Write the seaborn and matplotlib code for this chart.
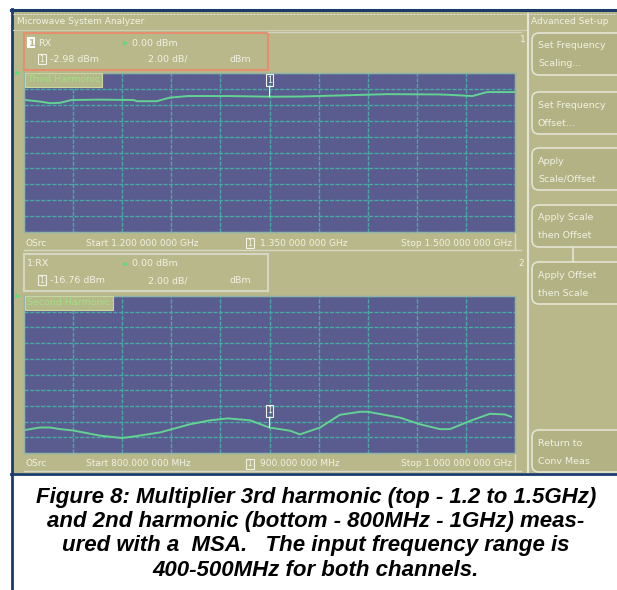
import numpy as np
import pandas as pd
import matplotlib
matplotlib.use("Agg")
import matplotlib.pyplot as plt
import seaborn as sns
from matplotlib.patches import Rectangle, FancyBboxPatch

# Trazas (frecuencia, nivel en dBm)
top_freq_ghz = [1.200, 1.210, 1.216, 1.222, 1.229, 1.246, 1.267, 1.269, 1.281, 1.289,
                1.300, 1.326, 1.350, 1.369, 1.422, 1.454, 1.460, 1.474, 1.483, 1.500]
top_level_dbm = [-3.38, -3.60, -3.80, -3.75, -3.40, -3.35, -3.40, -3.55, -3.55, -3.10,
                 -2.90, -2.90, -2.98, -2.96, -2.66, -2.70, -2.75, -2.90, -2.40, -2.40]

bot_freq_mhz = [800.0, 806.5, 810.6, 814.7, 820.0, 831.0, 839.9, 844.4, 855.4, 867.6,
                875.8, 883.1, 892.1, 900.0, 908.4, 912.4, 920.6, 928.7, 936.9, 940.1,
                953.2, 961.3, 969.5, 973.5, 981.7, 989.8, 995.9, 998.4]
bot_level_dbm = [-17.09, -16.75, -16.75, -16.96, -17.13, -17.79, -18.09, -17.91, -17.38, -16.34,
                 -15.84, -15.59, -15.84, -16.76, -17.16, -17.63, -16.75, -15.13, -14.75, -14.75,
                 -15.50, -16.34, -16.96, -16.96, -15.91, -15.00, -15.09, -15.38]

top_marker = (1.350, -2.98)
bot_marker = (900.0, -16.76)
ref_level = 0.0
db_per_div = 2.0

top_footer = ["OSrc", "Start 1.200 000 000 GHz", "1.350 000 000 GHz", "Stop 1.500 000 000 GHz"]
bot_footer = ["OSrc", "Start 800.000 000 MHz", "900.000 000 MHz", "Stop 1.000 000 000 GHz"]
buttons = [("Set Frequency", "Scaling..."), ("Set Frequency", "Offset..."),
           ("Apply", "Scale/Offset"), ("Apply Scale", "then Offset"),
           ("Apply Offset", "then Scale"), ("Return to", "Conv Meas")]
button_tops = [33, 92, 148, 205, 262, 430]

caption = ["Figure 8: Multiplier 3rd harmonic (top - 1.2 to 1.5GHz)",
           "and 2nd harmonic (bottom - 800MHz - 1GHz) meas-",
           "ured with a  MSA.   The input frequency range is",
           "400-500MHz for both channels."]

OLIVE = "#B9B88B"
SCREEN = "#5A5B8F"
GRID = "#4AA9A3"
TRACE = "#62D393"
UI = "#F1F1E4"
NAVY = "#1B3B6B"
W, H = 617, 590

fig = plt.figure(figsize=(W / 100, H / 100), dpi=100)
fig.patch.set_facecolor("white")

# fondo en coordenadas de pixel
bg = fig.add_axes([0, 0, 1, 1])
bg.set_xlim(0, W)
bg.set_ylim(H, 0)
bg.axis("off")
bg.add_patch(Rectangle((12, 10), W, 463, facecolor=OLIVE, edgecolor="none"))
bg.plot([11, W], [10, 10], color=NAVY, lw=2.2)
bg.plot([11.5, 11.5], [9, H], color=NAVY, lw=2)
bg.plot([11, W], [473.5, 473.5], color=NAVY, lw=2)
bg.plot([13, W], [13.5, 13.5], color="#D9D9CC", lw=0.8, ls=(0, (2, 1)))
bg.text(17, 22, "Microwave System Analyzer", color=UI, fontsize=6.5, va="center")
bg.plot([13, 527], [30, 30], color="#CFCFB8", lw=0.8)
bg.plot([268, 521], [32, 32], color="#D2D2BE", lw=1)
bg.text(520, 40, "1", color=UI, fontsize=6.5, va="center")
bg.text(518, 263, "2", color=UI, fontsize=6.5, va="center")
bg.plot([528, 528], [14, 472], color="#E6E6D8", lw=1.5)
bg.text(531, 22, "Advanced Set-up", color=UI, fontsize=6.5, va="center", clip_on=True)

for (l1, l2), y0 in zip(buttons, button_tops):
    bg.add_patch(FancyBboxPatch((532, y0), 100, 42, boxstyle="round,pad=0,rounding_size=7",
                                facecolor="#B3B285", edgecolor="#E4E4D4", lw=1.2))
    bg.text(538, y0 + 13, l1, color=UI, fontsize=6.8, va="center")
    bg.text(538, y0 + 31, l2, color=UI, fontsize=6.8, va="center")
bg.plot([573, 573], [247, 262], color="#E4E4D4", lw=1.2)


def header(y0, label, marker_txt, edge, first_box):
    bg.add_patch(Rectangle((24, y0), 244, 37, facecolor="none", edgecolor=edge, lw=1.5))
    if first_box:
        bg.add_patch(Rectangle((27, y0 + 4), 8, 11, facecolor="white", edgecolor="none"))
        bg.text(31, y0 + 10, "1", color=OLIVE, fontsize=6.5, ha="center", va="center",
                fontweight="bold")
    bg.text(38 if first_box else 27, y0 + 10, label, color=UI, fontsize=6.8, va="center")
    bg.text(123, y0 + 10, "\u25B6", color="#55E07A", fontsize=5, va="center")
    bg.text(132, y0 + 10, "0.00 dBm", color=UI, fontsize=6.8, va="center")
    bg.add_patch(Rectangle((38, y0 + 21), 8, 10, facecolor="none", edgecolor=UI, lw=0.8))
    bg.text(42, y0 + 26.5, "1", color=UI, fontsize=5.5, ha="center", va="center")
    bg.text(50, y0 + 26.5, marker_txt, color=UI, fontsize=6.8, va="center")
    bg.text(148, y0 + 26.5, "2.00 dB/", color=UI, fontsize=6.8, va="center")
    bg.text(230, y0 + 26.5, "dBm", color=UI, fontsize=6.8, va="center")


def footer(y0, texts):
    bg.plot([24, 521], [y0 + 18, y0 + 18], color="#D8D8C6", lw=1)
    bg.plot([515, 515], [y0, y0 + 18], color="#D8D8C6", lw=1)
    bg.text(26, y0 + 11, texts[0], color=UI, fontsize=6.5, va="center")
    bg.text(86, y0 + 11, texts[1], color=UI, fontsize=6.5, va="center")
    bg.add_patch(Rectangle((246, y0 + 6), 8, 10, facecolor="none", edgecolor=UI, lw=0.8))
    bg.text(250, y0 + 11, "1", color=UI, fontsize=5.5, ha="center", va="center")
    bg.text(260, y0 + 11, texts[2], color=UI, fontsize=6.5, va="center")
    bg.text(512, y0 + 11, texts[3], color=UI, fontsize=6.5, va="center", ha="right")


header(33, "RX", "-2.98 dBm", "#E4906E", True)
header(254, "1:RX", "-16.76 dBm", "#D6D6C4", False)
footer(232, top_footer)
footer(453, bot_footer)
for yy in (73, 296):
    bg.text(15, yy, "\u25B6", color="#55E07A", fontsize=5, va="center")


def trace_panel(rect, freq, level, xlim, marker, title):
    ax = fig.add_axes(rect)
    ax.set_facecolor(SCREEN)
    df = pd.DataFrame({"f": freq, "dbm": level})
    sns.lineplot(data=df, x="f", y="dbm", ax=ax, color=TRACE, lw=1.4)
    ax.set_xlim(*xlim)
    ax.set_ylim(ref_level - 10 * db_per_div, ref_level)
    ax.set_xticks(np.linspace(xlim[0], xlim[1], 11))
    ax.set_yticks(np.arange(ref_level - 10 * db_per_div, ref_level + 0.1, db_per_div))
    ax.grid(True, color=GRID, lw=1.0, ls=(0, (3, 1)))
    ax.tick_params(length=0, labelbottom=False, labelleft=False)
    ax.set_xlabel("")
    ax.set_ylabel("")
    for s in ax.spines.values():
        s.set_color("#8FB3A8")
        s.set_linewidth(1)
    ax.text(0.006, 0.985, title, transform=ax.transAxes, color="#A4DE84", fontsize=6.8,
            va="top", ha="left",
            bbox=dict(boxstyle="square,pad=0.25", facecolor="#B4B98A", edgecolor="#C9D6A0", lw=0.8))
    mx, my = marker
    ax.annotate("1", xy=(mx, my), xytext=(0, 12), textcoords="offset points",
                color=UI, fontsize=5.8, ha="center", va="center",
                bbox=dict(boxstyle="square,pad=0.15", facecolor="none", edgecolor=UI, lw=0.8),
                arrowprops=dict(arrowstyle="-", color=UI, lw=0.8, shrinkA=0, shrinkB=0))
    return ax


trace_panel([24 / W, 1 - 232 / H, 491 / W, 159 / H], top_freq_ghz, top_level_dbm,
            (1.2, 1.5), top_marker, "Third Harmonic")
trace_panel([24 / W, 1 - 453 / H, 491 / W, 157 / H], bot_freq_mhz, bot_level_dbm,
            (800, 1000), bot_marker, "Second Harmonic")

cap_y = [497, 521.5, 546, 570.5]
for line, yy in zip(caption, cap_y):
    bg.text(316, yy, line, ha="center", va="center", fontsize=16, fontweight="bold",
            fontstyle="italic", family=["Liberation Sans", "DejaVu Sans"], color="black")

fig.savefig("out.png", dpi=100)
